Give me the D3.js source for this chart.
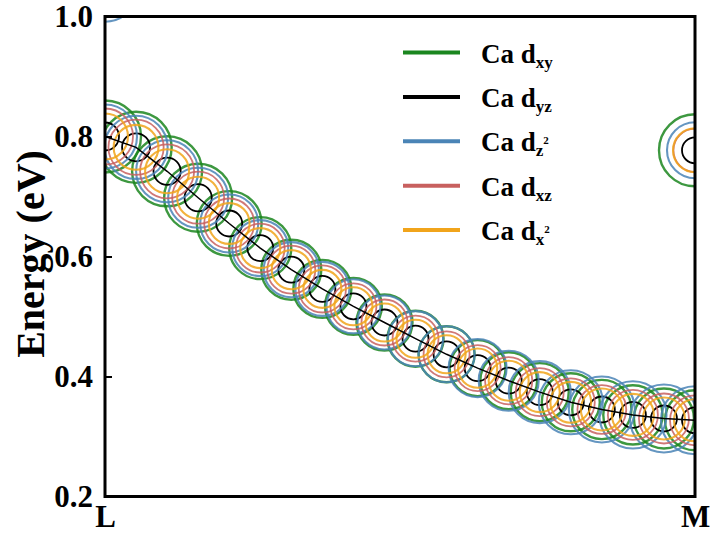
<!DOCTYPE html>
<html>
<head>
<meta charset="utf-8">
<script src="https://cdn.jsdelivr.net/npm/d3@7"></script>
<style>
  html, body { margin: 0; padding: 0; background: #fff; }
  svg { display: block; }
  text { font-family: "Times New Roman", "Liberation Serif", serif; font-weight: bold; }
</style>
</head>
<body>
<svg id="chart" width="713" height="536"></svg>
<script>
// ---------------- data ----------------
const kLabels = ["L", "M"];
const kIndex = d3.range(20);              // 20 k-points from L to M
// main band energy (eV)
const bandEnergy = [0.800, 0.782, 0.742, 0.698, 0.655, 0.614, 0.578, 0.546, 0.517, 0.490,
                    0.463, 0.437, 0.414, 0.393, 0.374, 0.357, 0.345, 0.336, 0.330, 0.327];
// orbital weights (arbitrary units) for the main band
const wDxy  = [0.90, 0.89, 0.875, 0.85, 0.81, 0.775, 0.75, 0.725, 0.71, 0.70,
               0.70, 0.70, 0.70, 0.71, 0.725, 0.725, 0.74, 0.74, 0.75, 0.75];
const wDyz  = [0.35, 0.35, 0.34, 0.34, 0.325, 0.325, 0.325, 0.325, 0.325, 0.325,
               0.325, 0.325, 0.325, 0.325, 0.325, 0.325, 0.325, 0.325, 0.325, 0.325];
const wDz2  = [0.80, 0.79, 0.775, 0.75, 0.725, 0.70, 0.69, 0.675, 0.675, 0.675,
               0.69, 0.70, 0.725, 0.75, 0.775, 0.80, 0.825, 0.84, 0.85, 0.85];
const wDxz  = [0.70, 0.69, 0.675, 0.65, 0.625, 0.61, 0.60, 0.59, 0.575, 0.575,
               0.575, 0.575, 0.575, 0.59, 0.60, 0.60, 0.61, 0.625, 0.625, 0.625];
const wDx2  = [0.575, 0.56, 0.55, 0.525, 0.51, 0.50, 0.49, 0.475, 0.475, 0.475,
               0.475, 0.475, 0.49, 0.50, 0.50, 0.51, 0.525, 0.525, 0.525, 0.525];
// band at M (lower edge visible) and band just above 1.0 at L
const bandM = { k: 19, e: 0.777, w: [0.90, 0.325, 0.70, 0.54, 0.55] };
const bandTop = { k: 0, e: 1.046, w: [0.30, 0.25, 0.82, 0.30, 0.30] };

const orbitalNames = ["Ca d", "Ca d", "Ca d", "Ca d", "Ca d"];
const orbitalSub = ["xy", "yz", "z", "xz", "x"];
const orbitalSup = ["", "", "2", "", "2"];
const orbitalColors = ["#1b861f", "#000000", "#4a84b6", "#c8605f", "#f1a41b"];
const yTicks = [0.2, 0.4, 0.6, 0.8, 1.0];
const yTickLabels = ["0.2", "0.4", "0.6", "0.8", "1.0"];

// ---------------- layout ----------------
const svg = d3.select("#chart");
const L = 105, R = 695, T = 16.5, B = 496.5;
const x = d3.scaleLinear().domain([0, 19]).range([L, R]);
const y = d3.scaleLinear().domain([0.2, 1.0]).range([B, T]);
const rScale = d3.scaleLinear().domain([0, 1]).range([0, 40]);

svg.append("defs").append("clipPath").attr("id", "plotclip")
  .append("rect").attr("x", L).attr("y", T).attr("width", R - L).attr("height", B - T);

const plot = svg.append("g").attr("clip-path", "url(#plotclip)");

const weights = [wDxy, wDyz, wDz2, wDxz, wDx2];
const strokeW = [2.4, 1.8, 2.1, 1.8, 2.1];

weights.forEach((w, oi) => {
  const pts = kIndex.map(i => ({ k: i, e: bandEnergy[i], r: rScale(w[i]) }));
  pts.push({ k: bandM.k, e: bandM.e, r: rScale(bandM.w[oi]) });
  pts.push({ k: bandTop.k, e: bandTop.e, r: rScale(bandTop.w[oi]) });
  plot.append("g").selectAll("circle").data(pts).join("circle")
    .attr("cx", d => x(d.k))
    .attr("cy", d => y(d.e))
    .attr("r", d => d.r)
    .attr("fill", "none")
    .attr("stroke", orbitalColors[oi])
    .attr("stroke-opacity", oi === 1 ? 1 : 0.85)
    .attr("stroke-width", strokeW[oi]);
});

// band line
plot.append("path")
  .datum(kIndex)
  .attr("fill", "none")
  .attr("stroke", "#000")
  .attr("stroke-width", 1.5)
  .attr("d", d3.line().x(i => x(i)).y(i => y(bandEnergy[i])));

// axes
const yAxis = d3.axisLeft(y).tickValues(yTicks)
  .tickFormat((d, i) => yTickLabels[i]).tickSize(-7).tickPadding(12);
const gy = svg.append("g").attr("transform", `translate(${L},0)`).call(yAxis);
gy.select(".domain").remove();
gy.selectAll(".tick line").attr("stroke", "#000").attr("stroke-width", 2);
gy.selectAll("text").attr("font-size", 31).attr("fill", "#000")
  .attr("font-family", '"Times New Roman", "Liberation Serif", serif').attr("font-weight", "bold");

const xAxis = d3.axisBottom(x).tickValues([0, 19])
  .tickFormat((d, i) => kLabels[i]).tickSize(0).tickPadding(8);
const gx = svg.append("g").attr("transform", `translate(0,${B})`).call(xAxis);
gx.select(".domain").remove();
gx.selectAll("text").attr("font-size", 31).attr("fill", "#000")
  .attr("font-family", '"Times New Roman", "Liberation Serif", serif').attr("font-weight", "bold");

// frame
svg.append("rect").attr("x", L).attr("y", T).attr("width", R - L).attr("height", B - T)
  .attr("fill", "none").attr("stroke", "#000").attr("stroke-width", 3);

// y label
svg.append("text")
  .attr("transform", `translate(44,254) rotate(-90)`)
  .attr("text-anchor", "middle")
  .attr("font-size", 40)
  .text("Energy (eV)");

// legend
const legendX0 = 403, legendX1 = 460, legendTextX = 481, legendY0 = 52.5, legendDy = 44.4;
orbitalNames.forEach((name, i) => {
  const yy = legendY0 + i * legendDy;
  svg.append("line").attr("x1", legendX0).attr("x2", legendX1)
    .attr("y1", yy).attr("y2", yy)
    .attr("stroke", orbitalColors[i]).attr("stroke-width", 4);
  const t = svg.append("text").attr("x", legendTextX).attr("y", yy + 10)
    .attr("font-size", 27).attr("fill", "#000");
  t.append("tspan").text(name);
  t.append("tspan").attr("font-size", 17).attr("dy", 5).text(orbitalSub[i]);
  if (orbitalSup[i]) {
    t.append("tspan").attr("font-size", 11).attr("dy", -12).text(orbitalSup[i]);
  }
});
</script>
</body>
</html>
